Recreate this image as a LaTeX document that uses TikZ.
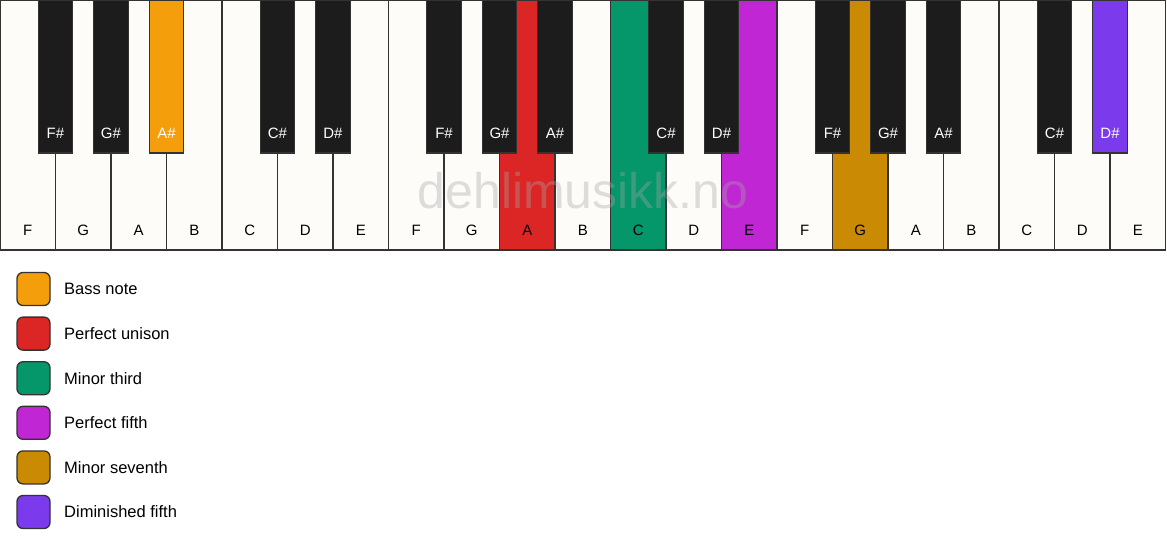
\documentclass[tikz,border=0pt]{standalone}
\usepackage{fontspec}
\setmainfont{Liberation Sans}
\definecolor{ivory}{HTML}{FDFCF8}
\definecolor{keyblack}{HTML}{1C1C1C}
\definecolor{edge}{HTML}{333333}
\definecolor{cbass}{HTML}{F59E0B}
\definecolor{cunison}{HTML}{DC2626}
\definecolor{cthird}{HTML}{059669}
\definecolor{cfifth}{HTML}{C026D3}
\definecolor{cseventh}{HTML}{CA8A04}
\definecolor{cdim}{HTML}{7C3AED}
\definecolor{wm}{HTML}{A6A6A6}
\begin{document}
\begin{tikzpicture}[x=1pt,y=-1pt,
  whitekey/.style={draw=edge,line width=1.3pt,fill=ivory,anchor=north west,minimum width=55.5pt,minimum height=250pt,inner sep=0pt,outer sep=0pt},
  blackkey/.style={draw=edge,line width=1.3pt,fill=keyblack,anchor=north,minimum width=34.5pt,minimum height=153pt,inner sep=0pt,outer sep=0pt},
  wlabel/.style={font=\fontsize{15}{15}\selectfont,text=black,inner sep=0pt},
  blabel/.style={font=\fontsize{15}{15}\selectfont,text=white,inner sep=0pt},
  swatch/.style={draw=edge,line width=1.3pt,rounded corners=6pt,minimum width=33pt,minimum height=33pt,inner sep=0pt},
  legtext/.style={font=\fontsize{16.5}{16.5}\selectfont,anchor=west,inner sep=0pt}]
\useasboundingbox (0,0) rectangle (1167,550);
\fill[white] (0,0) rectangle (1167,550);
% white keys
\foreach \n [count=\i from 0] in {F,G,A,B,C,D,E,F,G,A,B,C,D,E,F,G,A,B,C,D,E}{
  \node[whitekey] (w\i) at (\i*55.5,0) {};
}
\node[whitekey,fill=cunison] (hA) at (9*55.5,0) {};
\node[whitekey,fill=cthird] (hC) at (11*55.5,0) {};
\node[whitekey,fill=cfifth] (hE) at (13*55.5,0) {};
\node[whitekey,fill=cseventh] (hG) at (15*55.5,0) {};
% watermark
\node[font=\fontsize{50}{50}\selectfont,text=wm,text opacity=0.36,anchor=base,inner sep=0pt] (wmark) at (583,208) {dehlimusikk.no};
% white labels
\foreach \n [count=\i from 0] in {F,G,A,B,C,D,E,F,G,A,B,C,D,E,F,G,A,B,C,D,E}{
  \node[wlabel] (wl\i) at (\i*55.5+27.75,230) {\n};
}
% black keys
\foreach \b/\n in {1/F,2/G,3/A,5/C,6/D,8/F,9/G,10/A,12/C,13/D,15/F,16/G,17/A,19/C,20/D}{
  \node[blackkey] (b\b) at (\b*55.5,0) {};
}
\node[blackkey,fill=cbass] (hAs) at (3*55.5,0) {};
\node[blackkey,fill=cdim] (hDs) at (20*55.5,0) {};
\foreach \b/\n in {1/F,2/G,3/A,5/C,6/D,8/F,9/G,10/A,12/C,13/D,15/F,16/G,17/A,19/C,20/D}{
  \node[blabel] (bl\b) at (\b*55.5,133) {\n\#};
}
% legend
\foreach \c/\t [count=\k from 0] in {cbass/Bass note,cunison/Perfect unison,cthird/Minor third,cfifth/Perfect fifth,cseventh/Minor seventh,cdim/Diminished fifth}{
  \node[swatch,fill=\c] (s\k) at (33.5,289+\k*44.6) {};
  \node[legtext] (t\k) at (64,289+\k*44.6) {\t};
}
\end{tikzpicture}
\end{document}
